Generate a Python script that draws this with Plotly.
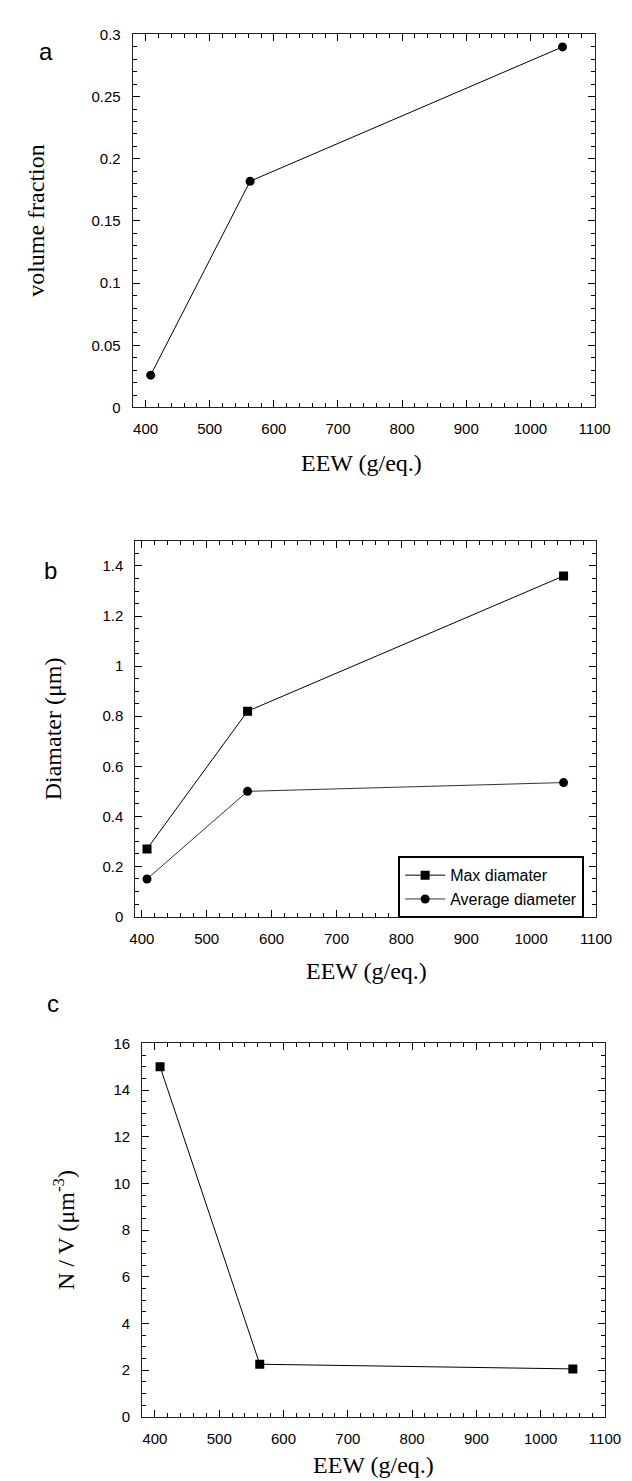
import plotly.graph_objects as go

# ---- data ----
eew = [408, 563, 1050]
volume_fraction = [0.026, 0.182, 0.290]
max_diameter = [0.27, 0.82, 1.36]
avg_diameter = [0.15, 0.50, 0.535]
n_over_v = [15.0, 2.25, 2.05]

x_ticks = [400, 500, 600, 700, 800, 900, 1000, 1100]
ya_ticks = [0, 0.05, 0.1, 0.15, 0.2, 0.25, 0.3]
ya_text = ["0", "0.05", "0.1", "0.15", "0.2", "0.25", "0.3"]
yb_ticks = [0, 0.2, 0.4, 0.6, 0.8, 1.0, 1.2, 1.4]
yb_text = ["0", "0.2", "0.4", "0.6", "0.8", "1", "1.2", "1.4"]
yc_ticks = [0, 2, 4, 6, 8, 10, 12, 14, 16]
yc_text = [str(v) for v in yc_ticks]

W, H = 632, 1481
SANS = "Liberation Sans, Arial, sans-serif"
SERIF = "Liberation Serif, Times New Roman, serif"


def px(x):
    return x / W


def py(y):
    return 1 - y / H


fig = go.Figure()

fig.add_trace(go.Scatter(x=eew, y=volume_fraction, mode="lines+markers",
                         line=dict(color="black", width=1),
                         marker=dict(symbol="circle", size=9, color="black"),
                         xaxis="x", yaxis="y", showlegend=False))
fig.add_trace(go.Scatter(x=eew, y=max_diameter, mode="lines+markers", name="Max diamater",
                         line=dict(color="black", width=1),
                         marker=dict(symbol="square", size=9, color="black"),
                         xaxis="x2", yaxis="y2", showlegend=True))
fig.add_trace(go.Scatter(x=eew, y=avg_diameter, mode="lines+markers", name="Average diameter",
                         line=dict(color="#333333", width=1),
                         marker=dict(symbol="circle", size=9, color="black"),
                         xaxis="x2", yaxis="y2", showlegend=True))
fig.add_trace(go.Scatter(x=eew, y=n_over_v, mode="lines+markers",
                         line=dict(color="black", width=1),
                         marker=dict(symbol="square", size=9, color="black"),
                         xaxis="x3", yaxis="y3", showlegend=False))

tickfont = dict(family=SANS, size=15, color="black")


def xaxis(domain, rng, anchor):
    return dict(domain=domain, range=rng, anchor=anchor, tickvals=x_ticks,
                ticks="inside", ticklen=7, tickwidth=1, tickcolor="black",
                showline=True, linecolor="#222", linewidth=1, mirror="allticks",
                showgrid=False, zeroline=False, tickfont=tickfont,
                ticklabelstandoff=8,
                minor=dict(dtick=20, tick0=0, ticks="inside", ticklen=4,
                           tickcolor="black", showgrid=False))


def yaxis(domain, rng, anchor, tv, tt, mdt):
    return dict(domain=domain, range=rng, anchor=anchor, tickvals=tv, ticktext=tt,
                ticks="inside", ticklen=7, tickwidth=1, tickcolor="black",
                showline=True, linecolor="#222", linewidth=1, mirror="allticks",
                showgrid=False, zeroline=False, tickfont=tickfont,
                ticklabelstandoff=8,
                minor=dict(dtick=mdt, tick0=0, ticks="inside", ticklen=4,
                           tickcolor="black", showgrid=False))


fig.update_layout(
    width=W, height=H,
    margin=dict(l=0, r=0, t=0, b=0),
    paper_bgcolor="white", plot_bgcolor="white",
    xaxis=xaxis([px(123), px(601.5)], [380, 1100], "y"),
    yaxis=yaxis([py(395), py(17.7)], [0, 0.3], "x", ya_ticks, ya_text, 0.01),
    xaxis2=xaxis([px(125.7), px(603)], [390, 1100], "y2"),
    yaxis2=yaxis([py(910), py(530)], [0, 1.5], "x2", yb_ticks, yb_text, 0.05),
    xaxis3=xaxis([px(132.7), px(612.3)], [380, 1100], "y3"),
    yaxis3=yaxis([py(1416), py(1038.3)], [0, 16], "x3", yc_ticks, yc_text, 0.5),
    legend=dict(x=px(398), y=py(849), xanchor="left", yanchor="top",
                bordercolor="black", borderwidth=2, bgcolor="white",
                font=dict(family=SANS, size=16, color="black"),
                itemwidth=40, tracegroupgap=0),
)

annotations = [
    dict(text="a", x=px(33), y=py(35), font=dict(family=SANS, size=24)),
    dict(text="b", x=px(38), y=py(560), font=dict(family=SANS, size=24)),
    dict(text="c", x=px(40), y=py(998), font=dict(family=SANS, size=24)),
    dict(text="EEW (g/eq.)", x=px(360), y=py(451), font=dict(family=SERIF, size=24)),
    dict(text="EEW (g/eq.)", x=px(365), y=py(965), font=dict(family=SERIF, size=24)),
    dict(text="EEW (g/eq.)", x=px(372), y=py(1465), font=dict(family=SERIF, size=24)),
    dict(text="volume fraction", x=px(22), y=py(206), textangle=-90, font=dict(family=SERIF, size=24)),
    dict(text="Diamater (\u03bcm)", x=px(40), y=py(720), textangle=-90, font=dict(family=SERIF, size=24)),
    dict(text="N / V (\u03bcm<sup>-3</sup>)", x=px(52), y=py(1227), textangle=-90, font=dict(family=SERIF, size=24)),
]
for a in annotations:
    a.update(xref="paper", yref="paper", showarrow=False, xanchor="center", yanchor="middle")
    a["font"]["color"] = "black"
fig.update_layout(annotations=annotations)

fig.write_html("out.html")
